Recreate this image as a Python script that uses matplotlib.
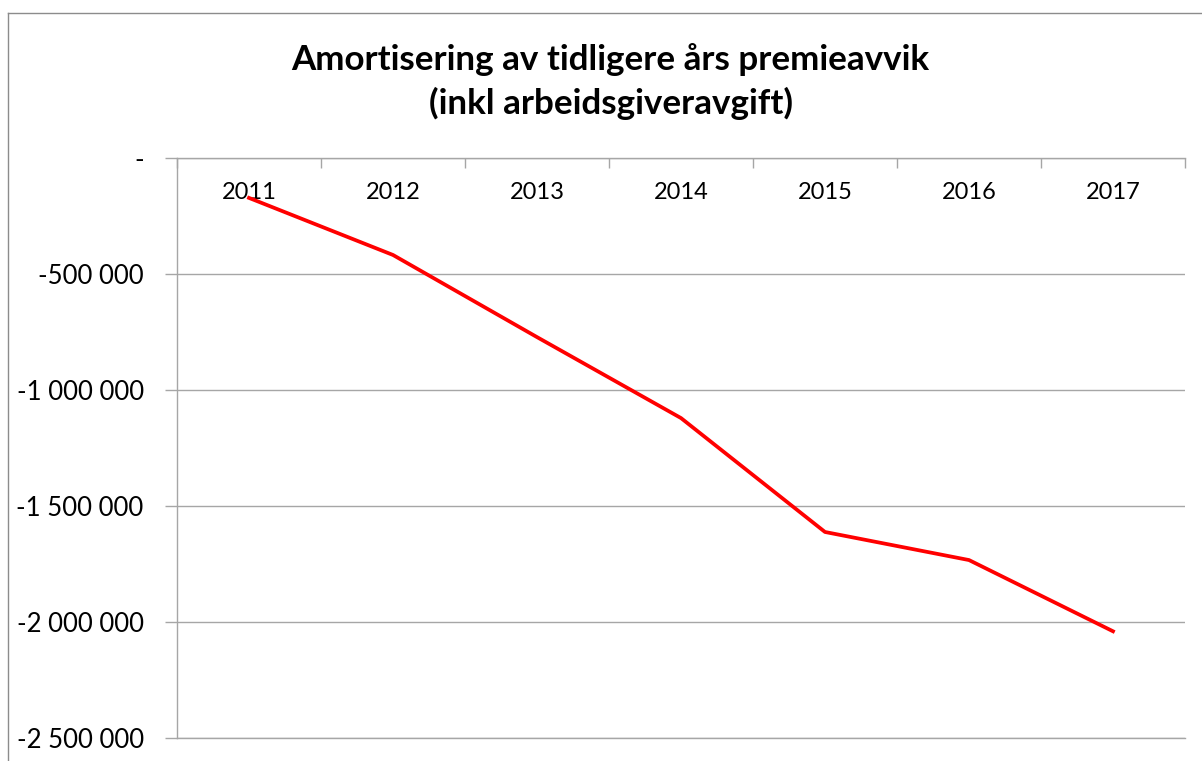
import matplotlib.pyplot as plt
from matplotlib.ticker import FuncFormatter, FixedLocator
from matplotlib.lines import Line2D

# data
years = ['2011', '2012', '2013', '2014', '2015', '2016', '2017']
amortisering = [-172000, -418000, -772000, -1121000, -1612000, -1733000, -2040000]
y_ticks = [0, -500000, -1000000, -1500000, -2000000, -2500000]

plt.rcParams['font.family'] = ['Lato', 'DejaVu Sans']

grey = '#a6a6a6'

fig = plt.figure(figsize=(12.02, 7.61), dpi=100)
ax = fig.add_axes([177 / 1202, 1 - 738 / 761, (1185 - 177) / 1202, (738 - 158) / 761])

x = list(range(len(years)))
ax.plot(x, amortisering, color='#ff0000', linewidth=2.7, solid_joinstyle='round')

ax.set_xlim(-0.5, len(years) - 0.5)
ax.set_ylim(-2500000, 0)


def fmt(v, pos):
    if v == 0:
        return '-'
    return '{:,.0f}'.format(v).replace(',', ' ')


ax.yaxis.set_major_locator(FixedLocator(y_ticks))
ax.yaxis.set_major_formatter(FuncFormatter(fmt))
ax.tick_params(axis='y', direction='out', length=9, width=1, color=grey,
               labelsize=18.5, pad=15)
ax.grid(axis='y', color=grey, linewidth=1)
ax.set_axisbelow(True)

# category labels sit under the top axis line
ax.xaxis.tick_top()
ax.set_xticks(x)
ax.set_xticklabels(years, fontsize=17, va='top')
ax.set_xticks([i - 0.5 for i in range(len(years) + 1)], minor=True)
ax.tick_params(axis='x', which='major', length=0, pad=-17)
ax.tick_params(axis='x', which='minor', direction='in', length=7, width=1, color=grey)

for side in ['left', 'top', 'bottom']:
    ax.spines[side].set_color(grey)
    ax.spines[side].set_linewidth(1)
ax.spines['right'].set_visible(False)

fig.text(0.508, 1 - 60 / 761, 'Amortisering av tidligere års premieavvik',
         ha='center', va='center', fontsize=25.2, fontweight='bold')
fig.text(0.508, 1 - 103 / 761, '(inkl arbeidsgiveravgift)',
         ha='center', va='center', fontsize=25.2, fontweight='bold')

# outer chart frame (only left and top visible in the crop)
fig.add_artist(Line2D([8 / 1202, 8 / 1202], [0, 1 - 13 / 761], transform=fig.transFigure,
                      color='#8c8c8c', linewidth=1))
fig.add_artist(Line2D([8 / 1202, 1], [1 - 13 / 761, 1 - 13 / 761], transform=fig.transFigure,
                      color='#8c8c8c', linewidth=1))

fig.savefig('out.png', dpi=100)
